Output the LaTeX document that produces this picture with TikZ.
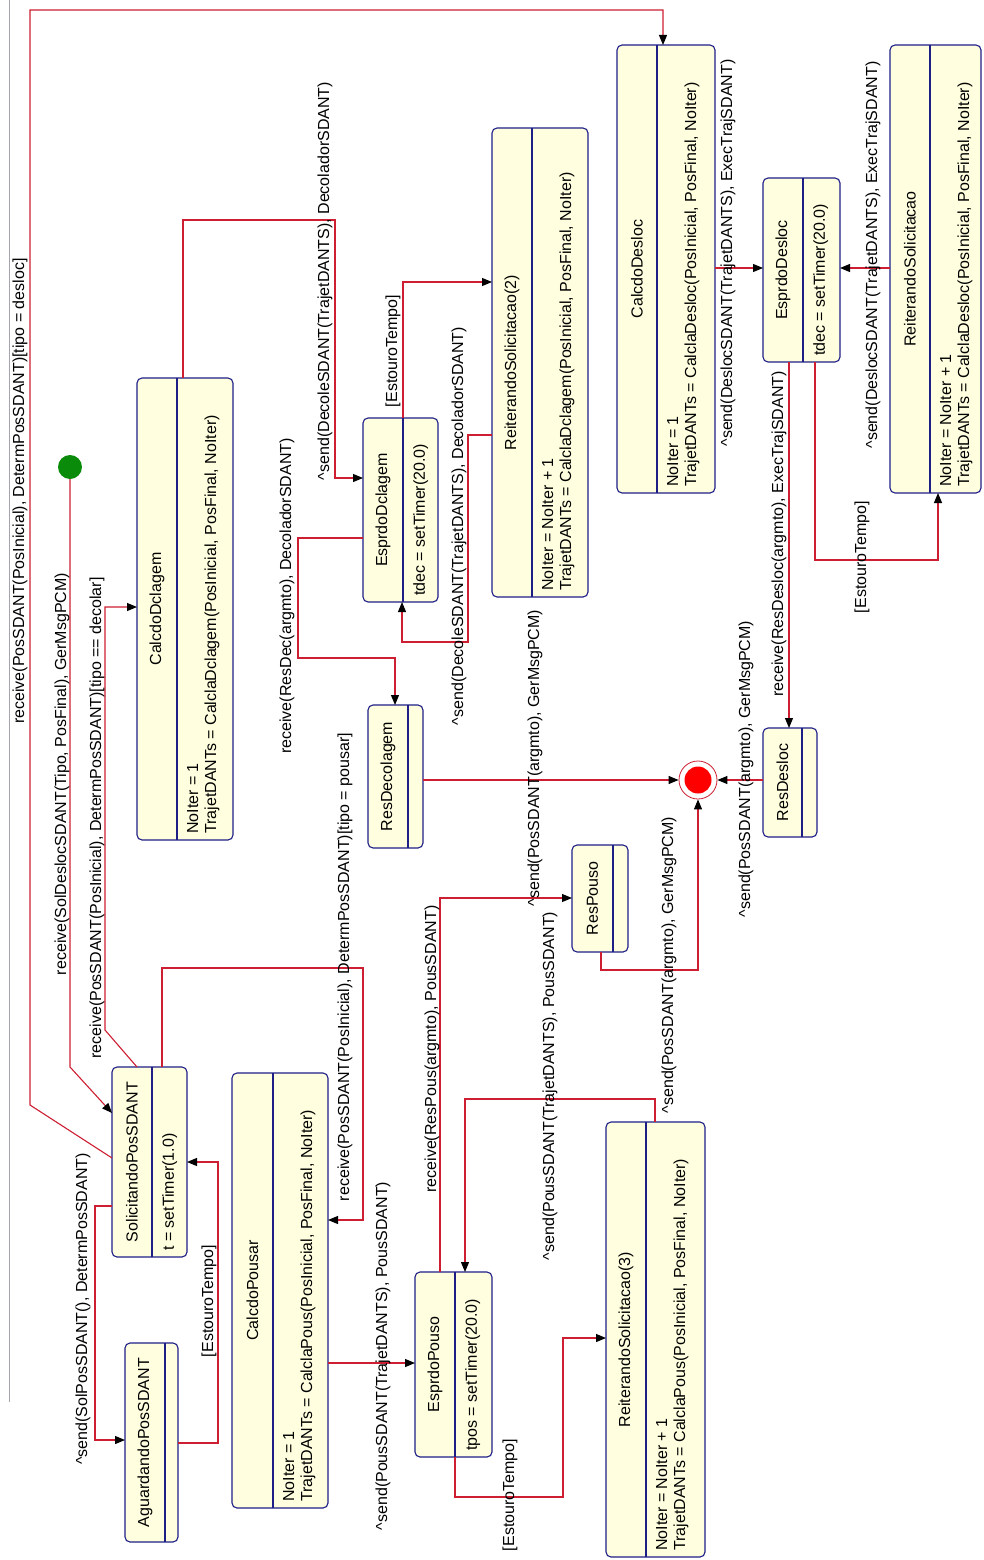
\documentclass[tikz,border=0pt]{standalone}
\usepackage{fontspec}
\setmainfont{Liberation Sans}
\usetikzlibrary{arrows.meta}

\definecolor{trred}{RGB}{205,30,50}
\definecolor{boxline}{RGB}{30,30,135}
\definecolor{boxfill}{RGB}{255,255,224}
\definecolor{initgreen}{RGB}{10,140,10}
\definecolor{frameg}{RGB}{165,165,175}

% state box: name, x1, y1, x2, y2, divider x, title, actions
\newcommand\ustate[8]{%
  \pgfmathsetmacro\uw{#4-#2}\pgfmathsetmacro\uh{#5-#3}%
  \pgfmathsetmacro\ucx{(#2+#4)/2}\pgfmathsetmacro\ucy{(#3+#5)/2}%
  \pgfmathsetmacro\utx{(#2+#6)/2}%
  \node[state, minimum width=\uw pt, minimum height=\uh pt] (#1) at (\ucx,\ucy) {};
  \draw[sdiv] (#6,#3) -- (#6,#5);
  \node[stitle] (#1-t) at (\utx,\ucy) {#7};
  \if\relax\detokenize{#8}\relax\else
    \node[sact] (#1-a) at (#6+10,#5-6) {#8};
  \fi
}

\begin{document}
\begin{tikzpicture}[x=1pt, y=-1pt,
  every node/.style={font=\fontsize{16}{18}\selectfont},
  state/.style={draw=boxline, fill=boxfill, rounded corners=5pt, line width=1.1pt, inner sep=0pt, outer sep=0pt},
  sdiv/.style={draw=boxline, line width=1.1pt},
  stitle/.style={rotate=90, inner sep=0pt},
  sact/.style={rotate=90, anchor=north west, align=left, inner sep=0pt},
  lbl/.style={rotate=90, inner sep=0pt},
  tr/.style={draw=trred, line width=1.1pt, -{Triangle[length=10pt,width=8pt,color=black]}}]

\fill[white] (0,0) rectangle (983,1560);
\useasboundingbox (0,0) rectangle (983,1560);

% frame line
\draw[frameg, line width=1pt] (9,0) -- (9,1402);

% states
\ustate{agu}{125}{1343}{178}{1542}{165}{AguardandoPosSDANT}{}
\ustate{sol}{112}{1067}{187}{1257}{152}{SolicitandoPosSDANT}{t = setTimer(1.0)}
\ustate{cpou}{232}{1073}{328}{1508}{273}{CalcdoPousar}{NoIter = 1\\TrajetDANTs = CalclaPous(PosInicial, PosFinal, NoIter)}
\ustate{cdec}{137}{378}{233}{840}{177}{CalcdoDclagem}{NoIter = 1\\TrajetDANTs = CalclaDclagem(PosInicial, PosFinal, NoIter)}
\ustate{edec}{363}{418}{438}{602}{403}{EsprdoDclagem}{tdec = setTimer(20.0)}
\ustate{rei2}{492}{128}{588}{597}{532}{ReiterandoSolicitacao(2)}{NoIter = NoIter + 1\\TrajetDANTs = CalclaDclagem(PosInicial, PosFinal, NoIter)}
\ustate{rdec}{368}{705}{423}{848}{408}{ResDecolagem}{}
\ustate{rpou}{572}{845}{628}{952}{613}{ResPouso}{}
\ustate{rdes}{763}{728}{817}{837}{802}{ResDesloc}{}
\ustate{cdes}{617}{45}{715}{493}{657}{CalcdoDesloc}{NoIter = 1\\TrajetDANTs = CalclaDesloc(PosInicial, PosFinal, NoIter)}
\ustate{edes}{763}{178}{840}{362}{803}{EsprdoDesloc}{tdec = setTimer(20.0)}
\ustate{rei1}{890}{45}{981}{493}{930}{ReiterandoSolicitacao}{NoIter = NoIter + 1\\TrajetDANTs = CalclaDesloc(PosInicial, PosFinal, NoIter)}
\ustate{epou}{415}{1272}{492}{1457}{455}{EsprdoPouso}{tpos = setTimer(20.0)}
\ustate{rei3}{606}{1122}{705}{1557}{646}{ReiterandoSolicitacao(3)}{NoIter = NoIter + 1\\TrajetDANTs = CalclaPous(PosInicial, PosFinal, NoIter)}

% initial and final states
\node[circle, fill=initgreen, minimum size=24pt, inner sep=0pt] (ini) at (70,467) {};
\node[circle, draw=trred, line width=0.8pt, minimum size=38pt, inner sep=0pt] (fin) at (698,780) {};
\node[circle, fill=red, minimum size=27pt, inner sep=0pt] (findot) at (fin.center) {};

% transitions
\draw[tr] (sol.west |- 0,1158) -- (30,1105) -- (30,10) -- (663,10) -- (663,0 |- cdes.north);
\draw[tr] (ini) -- (70,1067) -- (sol.west |- 0,1113);
\draw[tr] (137,0 |- sol.north) -- (105,1030) -- (105,607) -- (cdec.west |- 0,607);
\draw[tr] (162,0 |- sol.north) -- (162,968) -- (363,968) -- (363,1220) -- (cpou.east |- 0,1220);
\draw[tr] (sol.west |- 0,1206) -- (95,1206) -- (95,1440) -- (agu.west |- 0,1440);
\draw[tr] (agu.east |- 0,1443) -- (218,1443) -- (218,1162) -- (sol.east |- 0,1162);
\draw[tr] (183,0 |- cdec.north) -- (183,220) -- (335,220) -- (335,478) -- (edec.west |- 0,478);
\draw[tr] (edec.west |- 0,538) -- (298,538) -- (298,658) -- (395,658) -- (395,0 |- rdec.north);
\draw[tr] (403,0 |- edec.north) -- (403,282) -- (rei2.west |- 0,282);
\draw[tr] (rei2.west |- 0,435) -- (468,435) -- (468,642) -- (402,642) -- (402,0 |- edec.south);
\draw[tr] (rdec.east |- fin.west) -- (fin.west);
\draw[tr] (440,0 |- epou.north) -- (440,898) -- (rpou.west |- 0,898);
\draw[tr] (601,0 |- rpou.south) -- (601,970) -- (fin.south |- 0,970) -- (fin.south);
\draw[tr] (rdes.west |- fin.east) -- (fin.east);
\draw[tr] (789,0 |- edes.south) -- (789,0 |- rdes.north);
\draw[tr] (cdes.east |- 0,268) -- (edes.west |- 0,268);
\draw[tr] (815,0 |- edes.south) -- (815,560) -- (938,560) -- (938,0 |- rei1.south);
\draw[tr] (rei1.west |- 0,268) -- (edes.east |- 0,268);
\draw[tr] (cpou.east |- 0,1363) -- (epou.west |- 0,1363);
\draw[tr] (455,0 |- epou.south) -- (455,1497) -- (563,1497) -- (563,1338) -- (rei3.west |- 0,1338);
\draw[tr] (655,0 |- rei3.north) -- (655,1099) -- (465,1099) -- (465,0 |- epou.north);

% transition labels
\node[lbl] (lB) at (20,491) {receive(PosSDANT(PosInicial), DetermPosSDANT)[tipo = desloc]};
\node[lbl] (lC) at (62,774) {receive(SolDeslocSDANT(Tipo, PosFinal), GerMsgPCM)};
\node[lbl] (lD) at (97,818) {receive(PosSDANT(PosInicial), DetermPosSDANT)[tipo == decolar]};
\node[lbl] (lE) at (345,967) {receive(PosSDANT(PosInicial), DetermPosSDANT)[tipo = pousar]};
\node[lbl] (lF) at (83,1309) {\textasciicircum send(SolPosSDANT(), DetermPosSDANT)};
\node[lbl] (lG) at (209,1301) {[EstouroTempo]};
\node[lbl] (lH) at (325,281) {\textasciicircum send(DecoleSDANT(TrajetDANTS), DecoladorSDANT)};
\node[lbl] (lI) at (287,596) {receive(ResDec(argmto), DecoladorSDANT)};
\node[lbl] (lJ) at (393,351) {[EstouroTempo]};
\node[lbl] (lK) at (459,526) {\textasciicircum send(DecoleSDANT(TrajetDANTS), DecoladorSDANT)};
\node[lbl] (lL) at (535,758) {\textasciicircum send(PosSDANT(argmto), GerMsgPCM)};
\node[lbl] (lM) at (432,1049) {receive(ResPous(argmto), PousSDANT)};
\node[lbl] (lN) at (669,965) {\textasciicircum send(PosSDANT(argmto), GerMsgPCM)};
\node[lbl] (lO) at (746,769) {\textasciicircum send(PosSDANT(argmto), GerMsgPCM)};
\node[lbl] (lP) at (779,534) {receive(ResDesloc(argmto), ExecTrajSDANT)};
\node[lbl] (lQ) at (728,253) {\textasciicircum send(DeslocSDANT(TrajetDANTS), ExecTrajSDANT)};
\node[lbl] (lR) at (862,557) {[EstouroTempo]};
\node[lbl] (lS) at (873,255) {\textasciicircum send(DeslocSDANT(TrajetDANTS), ExecTrajSDANT)};
\node[lbl] (lT) at (383,1356) {\textasciicircum send(PousSDANT(TrajetDANTS), PousSDANT)};
\node[lbl] (lU) at (510,1495) {[EstouroTempo]};
\node[lbl] (lV) at (550,1086) {\textasciicircum send(PousSDANT(TrajetDANTS), PousSDANT)};

\end{tikzpicture}
\end{document}
